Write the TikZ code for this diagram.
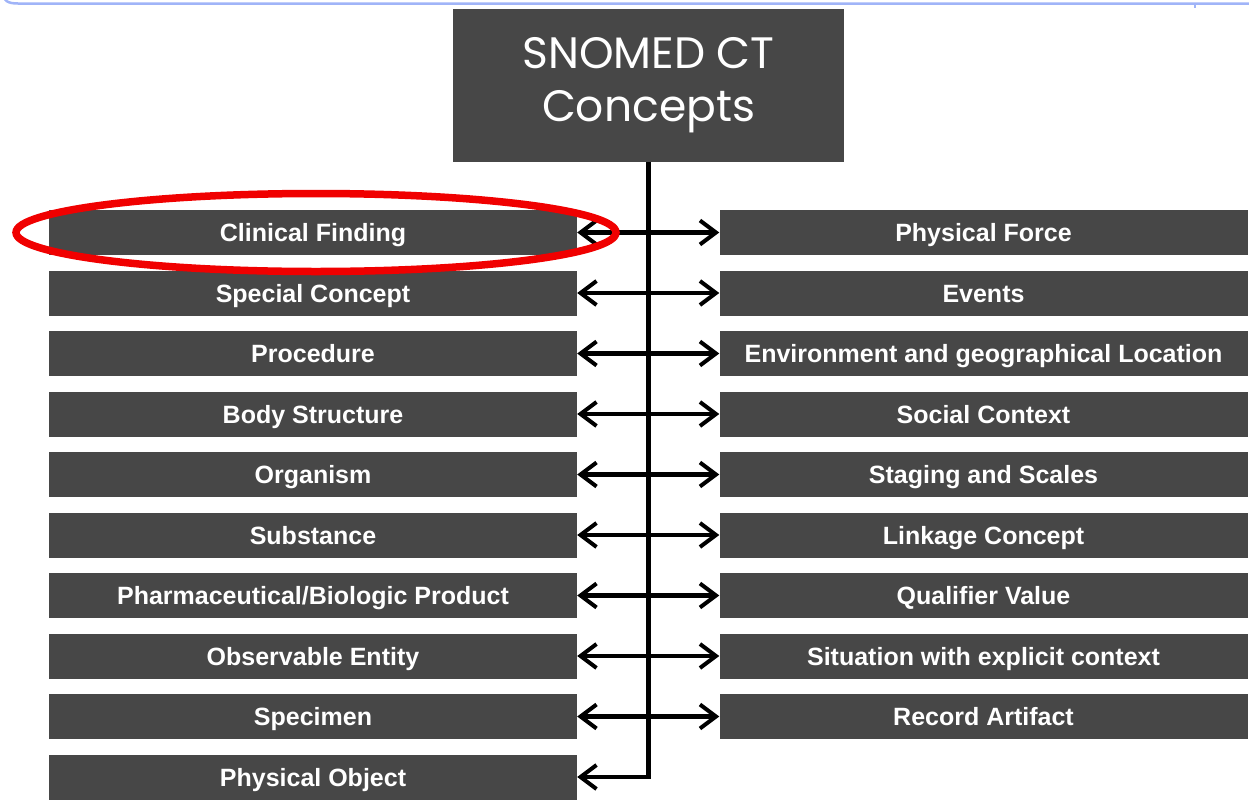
\documentclass[tikz,border=0pt]{standalone}
\usepackage{fontspec}
\setmainfont{Liberation Sans}
\newfontfamily\titlefont{Poppins}
\usetikzlibrary{arrows.meta,shapes.geometric}
\definecolor{boxgrey}{RGB}{71,71,71}
\definecolor{framblue}{RGB}{160,180,248}
\definecolor{ringred}{RGB}{240,0,0}
\tikzset{
  catbox/.style={fill=boxgrey, draw=none, minimum width=528pt, minimum height=45pt,
    inner sep=0pt, text=white, text height=18pt, text depth=0pt,
    font=\fontsize{25}{30}\selectfont\bfseries},
  link/.style={line width=4.5pt, line cap=butt},
  barb/.tip={Straight Barb[length=16pt,width=24pt,line width=4pt]},
  tipend/.style={-barb},
  tipboth/.style={barb-barb},
}
\begin{document}
\begin{tikzpicture}[x=1pt,y=-1pt]
\useasboundingbox (0,0) rectangle (1249,806);
% frame edge along the top
\draw[framblue, line width=2.5pt] (2,-8) .. controls (3,1) and (8,3.5) .. (18,3.5) -- (1252,3.5);
\draw[framblue, line width=2pt] (1195,3.5) -- (1195,7.5);
% root box
\node[fill=boxgrey, minimum width=391pt, minimum height=153pt, inner sep=0pt,
  text=white, align=center, font=\titlefont\fontsize{44}{53}\selectfont] (T) at (648.5,85.5)
  {SNOMED CT\\Concepts};
% left column
\foreach \n/\t [count=\i from 0] in {
  L1/{Clinical Finding}, L2/{Special Concept}, L3/{Procedure}, L4/{Body Structure},
  L5/{Organism}, L6/{Substance}, L7/{Pharmaceutical/Biologic Product},
  L8/{Observable Entity}, L9/{Specimen}, L10/{Physical Object}}
  \node[catbox] (\n) at (313,232.5+60.5*\i) {\t};
% right column
\foreach \n/\t [count=\i from 0] in {
  R1/{Physical Force}, R2/{Events}, R3/{Environment and geographical Location},
  R4/{Social Context}, R5/{Staging and Scales}, R6/{Linkage Concept},
  R7/{Qualifier Value}, R8/{Situation with explicit context}, R9/{Record Artifact}}
  \node[catbox] (\n) at (983.5,232.5+60.5*\i) {\t};
% trunk and branches
\draw[link, tipend] (T.south) |- (L10.east);
\foreach \i in {1,...,9}
  \draw[link, tipboth] (L\i.east) -- (R\i.west);
% highlight ring
\node[draw=ringred, line width=7.5pt, ellipse, minimum width=600pt, minimum height=78pt,
  inner sep=0pt] (ring) at (316,232.5) {};
\end{tikzpicture}
\end{document}
